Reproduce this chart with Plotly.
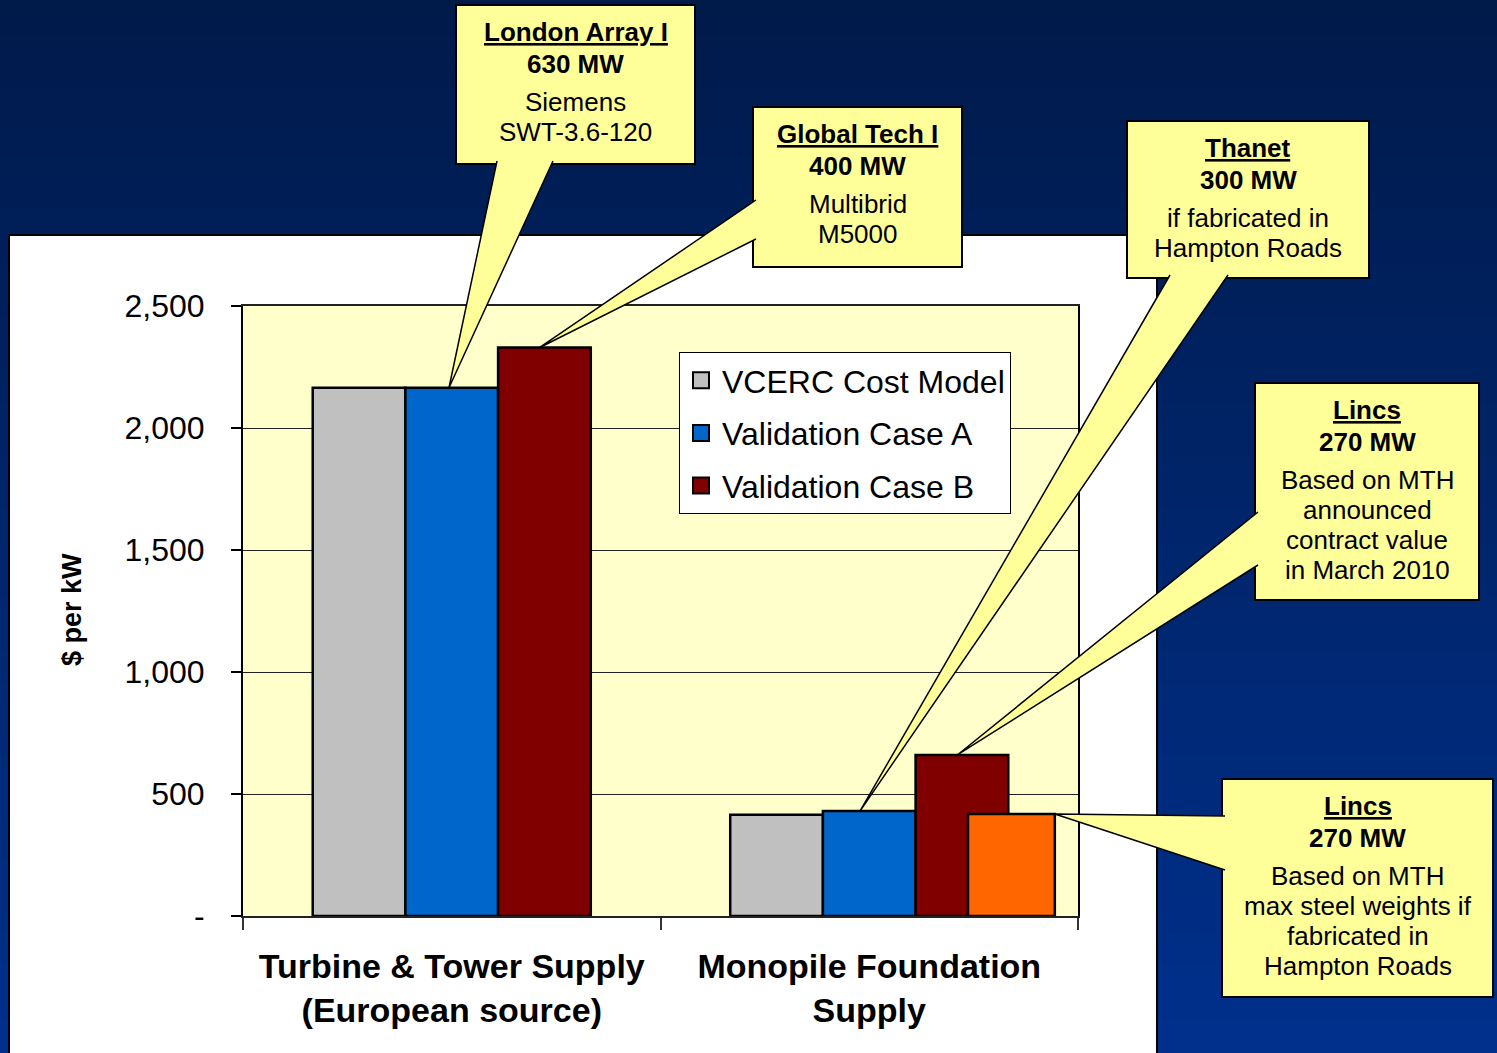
import plotly.graph_objects as go

# values, $ per kW
categories = ["<b>Turbine &amp; Tower Supply</b><br><b>(European source)</b>",
              "<b>Monopile Foundation</b><br><b>Supply</b>"]
series_names = ["VCERC Cost Model", "Validation Case A", "Validation Case B"]
vcerc_cost = [2165, 415]
case_a = [2165, 430]
case_b = [2330, 660]
lincs_steel = [418]  # extra Lincs bar, monopile group only
y_tickvals = [0, 500, 1000, 1500, 2000, 2500]
y_ticktext = ["-", "500", "1,000", "1,500", "2,000", "2,500"]

# callout texts
callout_titles = ["London Array I", "Global Tech I", "Thanet", "Lincs", "Lincs"]
callout_mw = ["630 MW", "400 MW", "300 MW", "270 MW", "270 MW"]
callout_notes = [
    ["Siemens", "SWT-3.6-120"],
    ["Multibrid", "M5000"],
    ["if fabricated in", "Hampton Roads"],
    ["Based on MTH", "announced", "contract value", "in March 2010"],
    ["Based on MTH", "max steel weights if", "fabricated in", "Hampton Roads"],
]

colors = ["#C0C0C0", "#0066CC", "#800000"]
orange = "#FF6600"
FONT = "Arial, Liberation Sans, sans-serif"

# pixel layout of the plot area -> paper coords
W_FIG, H_FIG = 1497, 1053
PL, PT, PW, PH = 243, 306, 835, 610


def fx(px):
    return (px - PL) / PW


def fy(py):
    return (PT + PH - py) / PH


X_RANGE = [-0.5, 1.5]
Y_RANGE = [0, 2500]
BW = 0.222
offsets = [-1.5 * BW, -0.5 * BW, 0.5 * BW]
ORANGE_OFF, ORANGE_W = 0.2365, 0.208

fig = go.Figure()

all_series = [vcerc_cost, case_a, case_b]
for name, vals, col, off in zip(series_names, all_series, colors, offsets):
    fig.add_trace(go.Bar(x=[0, 1], y=vals, name=name, width=BW, offset=off,
                         marker=dict(color=col, line=dict(color="black", width=2.5)),
                         showlegend=False, hoverinfo="skip"))

fig.add_trace(go.Bar(x=[1], y=lincs_steel, name="Lincs", width=ORANGE_W, offset=ORANGE_OFF,
                     xaxis="x2",
                     marker=dict(color=orange, line=dict(color="black", width=2.5)),
                     showlegend=False, hoverinfo="skip"))

# legend entries with bigger square symbols
for i, (name, col) in enumerate(zip(series_names, colors)):
    fig.add_trace(go.Scatter(x=[None], y=[None], mode="markers", name=name,
                             legendgroup=f"g{i}",
                             marker=dict(symbol="square", size=16, color=col,
                                         line=dict(color="black", width=2))))

shapes = []

# background gradient
n_bands = 60
top_c, bot_c = (0, 26, 74), (0, 48, 140)
for i in range(n_bands):
    t = i / (n_bands - 1)
    c = tuple(round(a + (b - a) * t) for a, b in zip(top_c, bot_c))
    y0 = H_FIG * i / n_bands
    y1 = H_FIG * (i + 1) / n_bands + 1
    shapes.append(dict(type="rect", xref="paper", yref="paper", layer="below",
                       x0=fx(0), x1=fx(W_FIG), y0=fy(y1), y1=fy(y0),
                       fillcolor=f"rgb{c}", line=dict(width=0)))

# white panel and yellow plot area
shapes.append(dict(type="rect", xref="paper", yref="paper", layer="below",
                   x0=fx(9), x1=fx(1157), y0=fy(1065), y1=fy(235),
                   fillcolor="white", line=dict(color="black", width=2)))
shapes.append(dict(type="rect", xref="paper", yref="paper", layer="below",
                   x0=0, x1=1, y0=0, y1=1, fillcolor="#FFFFCC", line=dict(width=0)))


def bar_point(series, cat, frac):
    if series == 3:
        xd = cat + ORANGE_OFF + frac * ORANGE_W
        yd = lincs_steel[0]
    else:
        xd = cat + offsets[series] + frac * BW
        yd = all_series[series][cat]
    return (xd - X_RANGE[0]) / (X_RANGE[1] - X_RANGE[0]), yd / Y_RANGE[1]


# callout geometry: box (px), wedge base points (px), anchor bar (series, category, fraction)
callout_boxes = [(456, 5, 695, 164), (753, 107, 962, 267), (1127, 121, 1369, 278),
                 (1255, 383, 1479, 600), (1222, 779, 1493, 997)]
callout_bases = [((497, 161), (553, 161)), ((756, 200), (756, 239)),
                 ((1170, 275), (1228, 275)), ((1258, 512), (1258, 565)),
                 ((1225, 816), (1225, 870))]
callout_anchor = [(1, 0, 0.47), (2, 0, 0.45), (1, 1, 0.40), (2, 1, 0.45), (3, 1, 1.0)]

annotations = []
for box, base, anc, title, mw, notes in zip(callout_boxes, callout_bases, callout_anchor,
                                            callout_titles, callout_mw, callout_notes):
    x0, y0, x1, y1 = box
    shapes.append(dict(type="rect", xref="paper", yref="paper", layer="above",
                       x0=fx(x0), x1=fx(x1), y0=fy(y1), y1=fy(y0),
                       fillcolor="#FFFF99", line=dict(color="black", width=2)))
    tx, ty = bar_point(*anc)
    (bx1, by1), (bx2, by2) = base
    shapes.append(dict(type="path", xref="paper", yref="paper", layer="above",
                       path=f"M{fx(bx1)},{fy(by1)} L{tx},{ty} L{fx(bx2)},{fy(by2)} Z",
                       fillcolor="#FFFF99", line=dict(width=0)))
    shapes.append(dict(type="path", xref="paper", yref="paper", layer="above",
                       path=f"M{fx(bx1)},{fy(by1)} L{tx},{ty} L{fx(bx2)},{fy(by2)}",
                       fillcolor="rgba(0,0,0,0)", line=dict(color="black", width=1.5)))
    cx = (x0 + x1) / 2
    lines = [f"<b><u>{title}</u></b>", f"<b>{mw}</b>"] + notes
    ys = [y0 + 27, y0 + 59] + [y0 + 97 + 30 * k for k in range(len(notes))]
    for txt, ly in zip(lines, ys):
        annotations.append(dict(x=fx(cx), y=fy(ly), xref="paper", yref="paper",
                                text=txt, showarrow=False, xanchor="center", yanchor="middle",
                                font=dict(family=FONT, size=26, color="black")))

annotations.append(dict(x=fx(72), y=fy(610), xref="paper", yref="paper",
                        text="<b>$ per kW</b>", textangle=-90, showarrow=False,
                        xanchor="center", yanchor="middle",
                        font=dict(family=FONT, size=27, color="black")))

fig.update_layout(
    width=W_FIG, height=H_FIG,
    margin=dict(l=PL, r=W_FIG - PL - PW, t=PT, b=H_FIG - PT - PH),
    paper_bgcolor="rgb(0,36,100)",
    plot_bgcolor="rgba(0,0,0,0)",
    barmode="overlay",
    font=dict(family=FONT, color="black"),
    shapes=shapes,
    annotations=annotations,
    legend=dict(x=fx(679), y=fy(352), xanchor="left", yanchor="top",
                bgcolor="white", bordercolor="black", borderwidth=1,
                font=dict(family=FONT, size=32, color="black"),
                tracegroupgap=8, itemwidth=32),
    xaxis=dict(range=X_RANGE, tickvals=[-0.5, 0.5, 1.5], showticklabels=False,
               ticks="outside", ticklen=12, tickwidth=2, tickcolor="#333",
               showgrid=False, zeroline=False, showline=True, linecolor="#222",
               linewidth=2, mirror=True),
    xaxis2=dict(range=X_RANGE, overlaying="x", side="bottom", tickvals=[0, 1],
                ticktext=categories, ticks="", showgrid=False, zeroline=False,
                showline=False, ticklabelstandoff=27,
                tickfont=dict(family=FONT, size=34, color="black")),
    yaxis=dict(range=Y_RANGE, tickvals=y_tickvals, ticktext=y_ticktext,
               ticks="outside", ticklen=10, tickwidth=2, tickcolor="black",
               ticklabelstandoff=20, showgrid=True, gridcolor="#222", gridwidth=1,
               zeroline=False, showline=True, linecolor="black", linewidth=2, mirror=True,
               tickfont=dict(family=FONT, size=32, color="black")),
)

# drop the browser's default body margin so the figure sits at the page corner
fig.write_html("out.html", config={"displayModeBar": False},
               post_script="document.body.style.margin='0';")
